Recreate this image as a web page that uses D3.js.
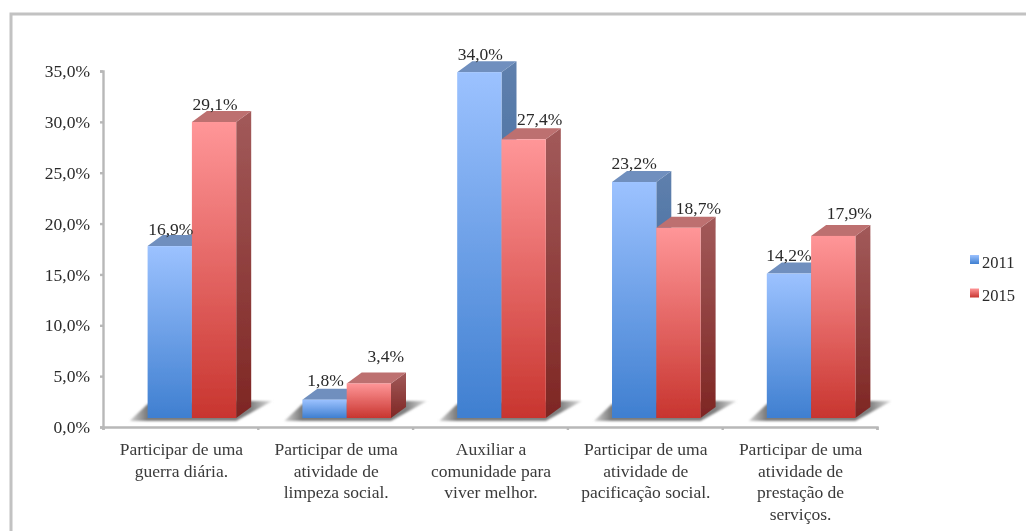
<!DOCTYPE html>
<html><head><meta charset="utf-8">
<script src="https://cdnjs.cloudflare.com/ajax/libs/d3/7.8.5/d3.min.js"></script>
<style>html,body{margin:0;padding:0;background:#fff}svg{display:block}text{font-family:"Liberation Serif",serif;fill:#2a2a2a}</style>
</head><body><svg id="c" width="1026" height="531"></svg>
<script>
const categories=[
 ["Participar de uma","guerra diária."],
 ["Participar de uma","atividade de","limpeza social."],
 ["Auxiliar a","comunidade para","viver melhor."],
 ["Participar de uma","atividade de","pacificação social."],
 ["Participar de uma","atividade de","prestação de","serviços."]];
const years=["2011","2015"];
const values2011=[16.9,1.8,34.0,23.2,14.2];
const values2015=[29.1,3.4,27.4,18.7,17.9];
const yTicks=[0,5,10,15,20,25,30,35];
const fmt=v=>v.toFixed(1).replace(".",",")+"%";

// label placement relative to the bar-top centre, as [dx, dy]
const labelNudge=[
 [[1,-11],[1,-14],[1,-12],[0,-13],[0,-13]],
 [[1,-12],[17,-21],[16,-14],[20,-14],[16,-17]]];

const svg=d3.select("#c");
const depthX=15,depthY=11,floorGap=9;
const x=d3.scaleLinear().domain([0,5]).range([103,877]);
const y=d3.scaleLinear().domain([0,35]).range([427,71]);
const defs=svg.append("defs");
const soft=defs.append("filter").attr("id","soft").attr("filterUnits","userSpaceOnUse")
 .attr("x",0).attr("y",0).attr("width",1026).attr("height",531);
soft.append("feGaussianBlur").attr("stdDeviation",0.6);
const shBlur=defs.append("filter").attr("id","shBlur").attr("x","-10%").attr("y","-30%").attr("width","120%").attr("height","160%");
shBlur.append("feGaussianBlur").attr("stdDeviation",1.2);
function grad(id,a,b){const g=defs.append("linearGradient").attr("id",id).attr("x1",0).attr("x2",0).attr("y1",0).attr("y2",1);
 g.append("stop").attr("offset",0).attr("stop-color",a);g.append("stop").attr("offset",1).attr("stop-color",b);}
grad("f0","#9cc2ff","#3f7fd0");grad("f1","#ff9698","#c8352f");
grad("s0","#5f80ad","#2f5c94");grad("s1","#a25a5a","#7e2623");
const sg=defs.append("linearGradient").attr("id","shade").attr("x1",0).attr("x2",1).attr("y1",0).attr("y2",0);
[[0,"#d4d4d4"],[0.12,"#7c7c7c"],[0.85,"#808080"],[1,"#e2e2e2"]].forEach(d=>sg.append("stop").attr("offset",d[0]).attr("stop-color",d[1]));
const topCol=["#6f8fbe","#bd6f6f"];

// chart frame: only top and left edges fall inside the picture
svg.append("rect").attr("x",11).attr("y",14).attr("width",1040).attr("height",560)
 .attr("fill","#fff").attr("stroke","#c2c2c2").attr("stroke-width",3);

const root=svg.append("g").attr("filter","url(#soft)");
const axY=root.append("g").attr("transform","translate(103,0)").call(d3.axisLeft(y).tickValues(yTicks).tickSize(3).tickFormat(fmt));
const axX=root.append("g").attr("transform","translate(0,427)").call(d3.axisBottom(x).ticks(5).tickSize(3).tickFormat(""));
[axY,axX].forEach(a=>{a.selectAll("path,line").attr("stroke","#b8b8b8").attr("stroke-width",2.4);});
axY.selectAll("text").style("font-size","17.5px").attr("x",-13).attr("dy","0.32em");

const offset=11.5,barW=44.3;
const center=i=>(x(i)+x(i+1))/2;
const gx=(i,s)=>center(i)+offset+(s-1)*barW;
const fy=v=>y(v)-floorGap;
const base=fy(0);
const series=[values2011,values2015];
categories.forEach((c,i)=>{
 const l=gx(i,0),r=gx(i,2);
 root.append("path").attr("d",d3.line()([[l-18,base+3],[r,base+3],[r+36,base-17],[r+15,base-17],[l,base-14]]))
  .attr("fill","url(#shade)").attr("filter","url(#shBlur)");
});
series.forEach((vals,s)=>{
 const g=root.append("g");
 vals.forEach((v,i)=>{
  const l=gx(i,s),r=l+barW,t=fy(v);
  g.append("path").attr("d",d3.line()([[r,t],[r+depthX,t-depthY],[r+depthX,base-depthY],[r,base]])).attr("fill",`url(#s${s})`);
  g.append("path").attr("d",d3.line()([[l,t],[l+depthX,t-depthY],[r+depthX,t-depthY],[r,t]])).attr("fill",topCol[s]);
  g.append("rect").attr("x",l).attr("y",t).attr("width",barW).attr("height",base-t).attr("fill",`url(#f${s})`);
 });
});
series.forEach((vals,s)=>{
 vals.forEach((v,i)=>{
  const n=labelNudge[s][i];
  root.append("text").attr("x",gx(i,s)+barW/2+n[0]).attr("y",fy(v)+n[1]).attr("text-anchor","middle")
   .style("font-size","17.5px").text(fmt(v));
 });
});
categories.forEach((lines,i)=>{
 const t=root.append("text").attr("text-anchor","middle").style("font-size","17.5px").style("fill","#3a3a3a");
 lines.forEach((ln,k)=>t.append("tspan").attr("x",center(i)+1).attr("y",455+k*21.5).text(ln));
});
years.forEach((yr,s)=>{
 const ly=259.5+s*33.5;
 root.append("rect").attr("x",970).attr("y",ly-4.5).attr("width",9).attr("height",9).attr("fill",`url(#f${s})`);
 root.append("text").attr("x",982).attr("y",ly+8).style("font-size","16.5px").text(yr);
});
</script></body></html>
